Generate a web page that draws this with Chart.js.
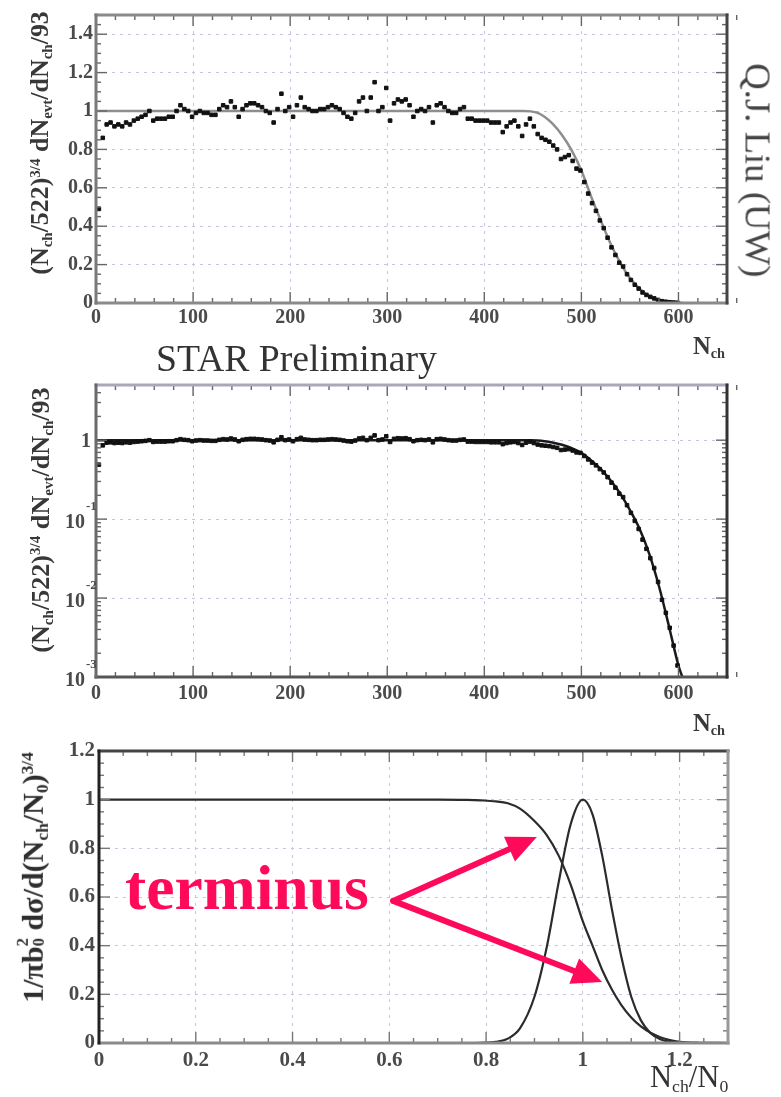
<!DOCTYPE html>
<html><head><meta charset="utf-8">
<script src="https://cdn.jsdelivr.net/npm/chart.js@4/dist/chart.umd.min.js"></script>
<style>
html,body{margin:0;padding:0;background:#fff;}
body{width:781px;height:1097px;position:relative;overflow:hidden;font-family:"Liberation Serif","DejaVu Serif",serif;}
.panel{position:absolute;left:0;width:781px;}
.panel canvas{display:block;}
.txt{position:absolute;white-space:nowrap;line-height:1;z-index:5;transform-origin:50% 50%;}
.txt sub,.txt sup{line-height:0;font-size:0.58em;}
.txt sub{vertical-align:-0.3em;}
.txt sup{vertical-align:0.55em;}
.stk{display:inline-block;vertical-align:-0.05em;font-size:0.55em;line-height:0.95;text-align:left;}
</style></head><body>
<div class="panel" style="top:0;height:340px"><canvas id="c1" width="781" height="340"></canvas></div>
<div class="panel" style="top:340px;height:380px"><canvas id="c2" width="781" height="380"></canvas></div>
<div class="panel" style="top:720px;height:377px"><canvas id="c3" width="781" height="377"></canvas></div>
<script>
// ---------- data ----------
const nch = [3,7,11,15,19,23,27,31,35,39,
  43,47,51,55,59,63,67,71,75,79,
  83,87,91,95,99,103,107,111,115,119,
  123,127,131,135,139,143,147,151,155,159,
  163,167,171,175,179,183,187,191,195,199,
  203,207,211,215,219,223,227,231,235,239,
  243,247,251,255,259,263,267,271,275,279,
  283,287,291,295,299,303,307,311,315,319,
  323,327,331,335,339,343,347,351,355,359,
  363,367,371,375,379,383,387,391,395,399,
  403,407,411,415,419,423,427,431,435,439,
  443,447,451,455,459,463,467,471,475,479,
  483,487,491,495,499,503,507,511,515,519,
  523,527,531,535,539,543,547,551,555,559,
  563,567,571,575,579,583,587,591,595,599];
const ratio = [0.49,0.86,0.93,0.94,0.92,0.93,0.92,0.94,0.93,0.95,
  0.96,0.97,0.98,1.00,0.95,0.96,0.96,0.96,0.97,0.97,
  1.00,1.03,1.01,1.00,0.97,0.99,1.00,0.99,0.99,0.98,
  0.98,1.01,1.03,1.02,1.05,1.02,0.97,1.01,1.03,1.04,
  1.04,1.03,1.02,1.00,0.99,0.94,1.01,1.09,1.00,1.02,
  0.97,1.03,1.07,1.02,1.01,1.00,1.00,1.01,1.01,1.02,
  1.03,1.02,1.01,0.99,0.97,0.96,0.99,1.05,1.07,1.00,
  1.07,1.15,1.00,1.02,1.12,0.95,1.04,1.06,1.05,1.06,
  1.03,0.97,1.00,1.01,1.00,1.02,0.94,1.03,1.04,1.02,
  1.00,0.99,0.99,1.01,1.02,0.96,0.96,0.95,0.95,0.95,
  0.95,0.94,0.94,0.94,0.89,0.92,0.94,0.95,0.92,0.87,
  0.93,0.96,0.92,0.88,0.86,0.85,0.84,0.82,0.80,0.75,
  0.76,0.77,0.74,0.70,0.69,0.63,0.57,0.52,0.48,0.43,
  0.39,0.34,0.29,0.25,0.21,0.19,0.15,0.12,0.095,0.075,
  0.055,0.042,0.032,0.024,0.016,0.0095,0.0065,0.0042,0.0025,0.0014];
const fitN = [0,440,448,455,462,470,480,490,500,510,520,530,540,550,560,570,580,590,600,604];
const fitY = [1,1,0.998,0.99,0.97,0.935,0.875,0.795,0.69,0.555,0.43,0.31,0.21,0.13,0.075,0.036,0.014,0.0045,0.0014,0.001];

const xTicksN = [0,100,200,300,400,500,600];
const xLabelsN = ['0','100','200','300','400','500','600'];
const yTicksLin = [0,0.2,0.4,0.6,0.8,1,1.2,1.4];
const yLabelsLin = ['0','0.2','0.4','0.6','0.8','1','1.2','1.4'];
const yTicksLog = [0.001,0.01,0.1,1];
const yLabelsLog = [['10','-3'],['10','-2'],['10','-1'],['1','']];

const xScaled = [0,0.70,0.76,0.79,0.82,0.845,0.87,0.90,0.925,0.95,0.975,1.00,1.02,1.04,1.06,1.08,1.10,1.12,1.14,1.16,1.18,1.20,1.24,1.30];
const peakY  = [0,0,0,0.0008,0.005,0.018,0.06,0.19,0.39,0.66,0.90,1,0.94,0.77,0.55,0.35,0.19,0.093,0.04,0.015,0.005,0.001,0,0];
const fallY  = [1,1,0.999,0.997,0.993,0.985,0.963,0.912,0.855,0.77,0.65,0.50,0.40,0.30,0.22,0.155,0.105,0.068,0.042,0.024,0.012,0.005,0.001,0];
const xTicks3 = [0,0.2,0.4,0.6,0.8,1,1.2];
const xLabels3 = ['0','0.2','0.4','0.6','0.8','1','1.2'];
const yTicks3 = [0,0.2,0.4,0.6,0.8,1,1.2];
const yLabels3 = ['0','0.2','0.4','0.6','0.8','1','1.2'];

// ---------- helpers ----------
const SERIF = '"Liberation Serif","DejaVu Serif",serif';
const GRID = '#c6c6e4';
const LBL = '#4a4a4a';
const pts = (xs, ys) => xs.map((v,i)=>({x:v,y:ys[i]}));

const deco = {
  id:'deco',
  afterDatasetsDraw(chart, args, o){
    const {ctx, chartArea:a, scales:{x,y}} = chart;
    ctx.save();
    ctx.strokeStyle = o.tickColor; ctx.lineWidth = 1.4;
    const seg=(x1,y1,x2,y2)=>{ctx.beginPath();ctx.moveTo(x1,y1);ctx.lineTo(x2,y2);ctx.stroke();};
    const nx = Math.round((x.max-x.min)/o.xMinor);
    for(let i=0;i<=nx;i++){
      const v = x.min + i*o.xMinor; const px = x.getPixelForValue(v);
      const r = v/o.xMajor; const major = Math.abs(r-Math.round(r))<1e-6;
      const L = major?o.majorLen:o.minorLen;
      seg(px,a.bottom,px,a.bottom-L); seg(px,a.top,px,a.top+L);
    }
    const yv=[];
    if(o.yLog){
      for(let e=-3;e<=0;e++) for(let m=1;m<=9;m++){const v=m*Math.pow(10,e); if(v<=y.max*1.0001) yv.push([v,m===1]);}
    } else {
      const ny=Math.round((y.max-y.min)/o.yMinor);
      for(let i=0;i<=ny;i++){const v=y.min+i*o.yMinor; const r=v/o.yMajor; yv.push([v,Math.abs(r-Math.round(r))<1e-6]);}
    }
    yv.forEach(([v,major])=>{const py=y.getPixelForValue(v); const L=major?o.majorLen:o.minorLen;
      seg(a.left,py,a.left+L,py); seg(a.right,py,a.right-L,py);});
    ctx.lineWidth = 3; ctx.lineCap='square';
    ctx.strokeStyle=o.frame.bottom; seg(a.left,a.bottom,a.right,a.bottom);
    ctx.strokeStyle=o.frame.top; seg(a.left,a.top,a.right,a.top);
    ctx.strokeStyle=o.frame.right; seg(a.right,a.top,a.right,a.bottom);
    ctx.strokeStyle=o.frame.left; seg(a.left,a.top,a.left,a.bottom);
    ctx.restore();
  }
};

const logLabels = {
  id:'logLabels',
  afterDraw(chart, args, o){
    const {ctx, chartArea:a, scales:{y}} = chart;
    ctx.save(); ctx.fillStyle = LBL;
    yTicksLog.forEach((v,i)=>{
      const py = y.getPixelForValue(v); const [b,e] = yLabelsLog[i];
      if(e){
        ctx.font = 'bold 20px '+SERIF; ctx.textAlign='right'; ctx.textBaseline='middle';
        ctx.fillText(b, a.left-11, py+4);
        ctx.font = 'bold 13px '+SERIF; ctx.textAlign='left';
        ctx.fillText(e, a.left-10, py-12);
      } else {
        ctx.font = 'bold 20px '+SERIF; ctx.textAlign='right'; ctx.textBaseline='middle';
        ctx.fillText(b, a.left-5, py+2);
      }
    });
    ctx.restore();
  }
};

const arrows = {
  id:'arrows',
  afterDatasetsDraw(chart, args, o){
    const {ctx, scales:{x,y}} = chart;
    const sx=x.getPixelForValue(o.start[0]), sy=y.getPixelForValue(o.start[1]);
    ctx.save(); ctx.strokeStyle=o.color; ctx.fillStyle=o.color; ctx.lineWidth=o.width; ctx.lineCap='round';
    o.tips.forEach(t=>{
      const tx=x.getPixelForValue(t[0]), ty=y.getPixelForValue(t[1]);
      const ang=Math.atan2(ty-sy,tx-sx), c=Math.cos(ang), s=Math.sin(ang);
      const bx=tx-o.headLen*c, by=ty-o.headLen*s;
      ctx.beginPath(); ctx.moveTo(sx,sy); ctx.lineTo(bx+2*c,by+2*s); ctx.stroke();
      ctx.beginPath(); ctx.moveTo(tx,ty);
      ctx.lineTo(bx - s*o.headWidth/2, by + c*o.headWidth/2);
      ctx.lineTo(bx + s*o.headWidth/2, by - c*o.headWidth/2);
      ctx.closePath(); ctx.fill();
    });
    ctx.restore();
  }
};

function linAxis(ticks, labels, min, max, fontSize, pad, fitFn){
  return {
    type:'linear', min, max,
    afterBuildTicks: s => { s.ticks = ticks.map(v=>({value:v})); },
    afterFit: fitFn,
    ticks:{autoSkip:false, maxRotation:0, padding:pad, color:LBL,
      font:{family:SERIF, size:fontSize, weight:'bold'},
      callback: v => labels[ticks.findIndex(t=>Math.abs(t-v)<1e-9)]},
    grid:{color:GRID, lineWidth:1, drawTicks:false},
    border:{display:false, dash:[3,5]}
  };
}
const base = (padTop, padRight) => ({
  responsive:false, animation:false, devicePixelRatio:1,
  layout:{padding:{top:padTop, right:padRight, left:0, bottom:0}},
});

// ---------- panel 1 ----------
new Chart(document.getElementById('c1'), {
  type:'scatter',
  data:{datasets:[
    {data:pts(nch,ratio), pointStyle:'rect', pointRadius:2.5, borderWidth:1, borderColor:'#111', backgroundColor:'#111'},
    {data:pts(fitN,fitY), showLine:true, pointRadius:0, borderColor:'#8e8e8e', borderWidth:2.5, cubicInterpolationMode:'monotone'}
  ]},
  options:Object.assign(base(10, 54), {
    plugins:{legend:{display:false}, tooltip:{enabled:false},
      deco:{xMinor:20, xMajor:100, yMinor:0.05, yMajor:0.2, majorLen:11, minorLen:5, tickColor:'#666',
        frame:{left:'#7a7a7a', top:'#8a8a8a', right:'#444', bottom:'#8a8a8a'}}},
    scales:{
      x: linAxis(xTicksN, xLabelsN, 0, 650, 20, 3, s=>{s.height = 340-303;}),
      y: linAxis(yTicksLin, yLabelsLin, 0, 1.5, 20, 3, s=>{s.width = 96;})
    }
  }),
  plugins:[deco]
});

// ---------- panel 2 ----------
const ylog = {
  type:'logarithmic', min:0.001, max:5,
  afterBuildTicks: s => { s.ticks = yTicksLog.map(v=>({value:v})); },
  afterFit: s => { s.width = 96; },
  ticks:{display:false},
  grid:{color:GRID, lineWidth:1, drawTicks:false},
  border:{display:false, dash:[3,5]}
};
new Chart(document.getElementById('c2'), {
  type:'scatter',
  data:{datasets:[
    {data:pts(nch,ratio), pointStyle:'rect', pointRadius:2.5, borderWidth:1, borderColor:'#111', backgroundColor:'#111'},
    {data:pts(fitN,fitY), showLine:true, pointRadius:0, borderColor:'#1a1a1a', borderWidth:2.5, cubicInterpolationMode:'monotone'}
  ]},
  options:Object.assign(base(45, 54), {
    plugins:{legend:{display:false}, tooltip:{enabled:false},
      deco:{xMinor:20, xMajor:100, yLog:true, majorLen:11, minorLen:5, tickColor:'#666',
        frame:{left:'#6a6a6a', top:'#a8a8b8', right:'#333', bottom:'#555'}}},
    scales:{
      x: linAxis(xTicksN, xLabelsN, 0, 650, 20, 5, s=>{s.height = 380-337;}),
      y: ylog
    }
  }),
  plugins:[deco, logLabels]
});

// ---------- panel 3 ----------
new Chart(document.getElementById('c3'), {
  type:'scatter',
  data:{datasets:[
    {data:pts(xScaled,fallY), showLine:true, pointRadius:0, borderColor:'#2b2b2b', borderWidth:2.2, cubicInterpolationMode:'monotone'},
    {data:pts(xScaled,peakY), showLine:true, pointRadius:0, borderColor:'#2b2b2b', borderWidth:2.2, cubicInterpolationMode:'monotone'}
  ]},
  options:Object.assign(base(31, 53), {
    plugins:{legend:{display:false}, tooltip:{enabled:false},
      deco:{xMinor:0.05, xMajor:0.2, yMinor:0.05, yMajor:0.2, majorLen:11, minorLen:5, tickColor:'#777',
        frame:{left:'#222', top:'#444', right:'#999', bottom:'#8a8a8a'}},
      arrows:{color:'#ff0a5a', width:6, headLen:30, headWidth:27,
        start:[0.608,0.584], tips:[[0.905,0.847],[1.040,0.251]]}},
    scales:{
      x: linAxis(xTicks3, xLabels3, 0, 1.3, 21, 5, s=>{s.height = 377-323;}),
      y: linAxis(yTicks3, yLabels3, 0, 1.2, 21, 4, s=>{s.width = 99;})
    }
  }),
  plugins:[deco, arrows]
});

// ---------- text ----------
function mk(html, weight, color, size){
  const d=document.createElement('div'); d.className='txt'; d.innerHTML=html;
  d.style.fontWeight=weight; d.style.color=color; d.style.fontSize=size+'px';
  document.body.appendChild(d); return d;
}
function rotText(html, cx, cy, len, deg, weight, color){
  const d=mk(html, weight, color, 20);
  const fs = 20*len/d.offsetWidth; d.style.fontSize=fs+'px';
  const w=d.offsetWidth, h=d.offsetHeight;
  d.style.left=(cx-w/2)+'px'; d.style.top=(cy-h/2)+'px';
  d.style.transform='rotate('+deg+'deg)';
}
function lineText(html, left, baseline, len, weight, color){
  const d=mk(html, weight, color, 20);
  const fs = 20*len/d.offsetWidth; d.style.fontSize=fs+'px';
  d.style.left=left+'px'; d.style.top=(baseline-0.8375*fs)+'px';
}
const yTitle = '(N<sub>ch</sub>/522)<sup>3/4</sup> dN<sub>evt</sub>/dN<sub>ch</sub>/93';
rotText(yTitle, 40, 143, 263, -90, 'bold', '#383838');
rotText(yTitle, 40, 520, 265, -90, 'bold', '#383838');
rotText('1/&pi;b<span class="stk">2<br>0</span> d&sigma;/d(N<sub>ch</sub>/N<sub>0</sub>)<sup>3/4</sup>', 31, 877, 251, -90, 'bold', '#2e2e2e');
rotText('Q.J. Liu (UW)', 757, 170, 215, 90, 'normal', '#444');
lineText('STAR Preliminary', 156, 372, 281, 'normal', '#333');
lineText('N<sub>ch</sub>', 693, 355, 32, 'bold', '#3a3a3a');
lineText('N<sub>ch</sub>', 693, 732, 32, 'bold', '#3a3a3a');
lineText('N<sub>ch</sub>/N<sub>0</sub>', 650, 1088, 78, 'normal', '#333');
lineText('terminus', 125, 909, 245, 'bold', '#ff0a5a');
</script>
</body></html>
